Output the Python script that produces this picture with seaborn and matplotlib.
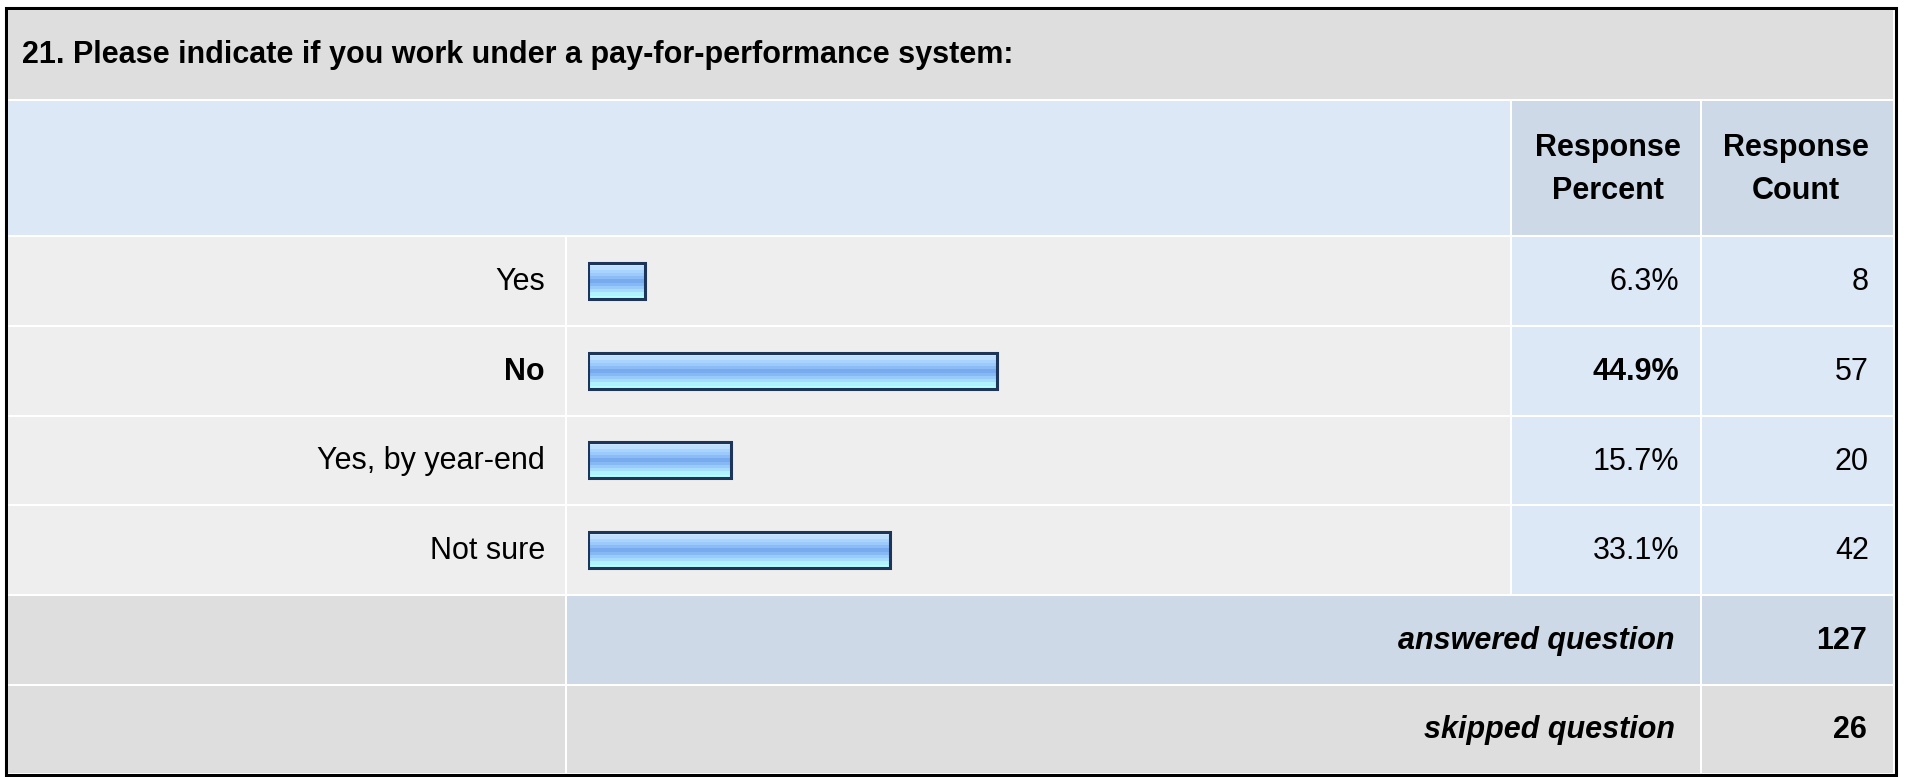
import numpy as np
import matplotlib
matplotlib.use("Agg")
import matplotlib.pyplot as plt
import matplotlib.colors as mcolors
from matplotlib.patches import Rectangle
import seaborn as sns

# survey data
title = "21. Please indicate if you work under a pay-for-performance system:"
labels = ["Yes", "No", "Yes, by year-end", "Not sure"]
percents = [6.3, 44.9, 15.7, 33.1]
counts = [8, 57, 20, 42]
answered = 127
skipped = 26

sns.set_style("white")
plt.rcParams["font.family"] = ["Liberation Sans", "DejaVu Sans"]
plt.rcParams["text.color"] = "black"
FS = 22

W, H = 1907, 777
fig = plt.figure(figsize=(W / 100, H / 100), dpi=100)
bg = fig.add_axes([0, 0, 1, 1])
bg.set_xlim(0, W)
bg.set_ylim(H, 0)
bg.axis("off")


def cell(x0, x1, y0, y1, c):
    bg.add_patch(Rectangle((x0, y0), x1 - x0, y1 - y0, facecolor=c, edgecolor="none"))


GRAY = "#dedede"
LIGHT = "#eeeeee"
BLUE = "#dce8f5"
BLUE2 = "#cdd9e6"

# outer frame
bg.add_patch(Rectangle((5.5, 7.5), 1890, 767, fill=False, edgecolor="black", lw=2.2))

rows = [236, 326, 416, 505, 595, 685, 773]

cell(8, 1893, 10, 99, GRAY)
cell(8, 1510, 101, 235, BLUE)
cell(1512, 1700, 101, 235, BLUE2)
cell(1702, 1893, 101, 235, BLUE2)

for i in range(4):
    y0, y1 = rows[i] + 1, rows[i + 1] - 1
    cell(8, 565, y0, y1, LIGHT)
    cell(567, 1510, y0, y1, LIGHT)
    cell(1512, 1700, y0, y1, BLUE)
    cell(1702, 1893, y0, y1, BLUE)

y0, y1 = rows[4] + 1, rows[5] - 1
cell(8, 565, y0, y1, GRAY)
cell(567, 1700, y0, y1, BLUE2)
cell(1702, 1893, y0, y1, BLUE2)
y0, y1 = rows[5] + 1, rows[6]
cell(8, 565, y0, y1, GRAY)
cell(567, 1700, y0, y1, GRAY)
cell(1702, 1893, y0, y1, GRAY)

# text
tkw = dict(fontsize=FS, color="black", family=["Liberation Sans", "DejaVu Sans"])
bg.text(22, 55, title, fontweight="bold", va="center", ha="left", **tkw)
for cx in (1608, 1796):
    bg.text(cx, 148, "Response", fontweight="bold", ha="center", va="center", **tkw)
bg.text(1608, 191, "Percent", fontweight="bold", ha="center", va="center", **tkw)
bg.text(1796, 191, "Count", fontweight="bold", ha="center", va="center", **tkw)

top = max(percents)
for i, (lab, p, n) in enumerate(zip(labels, percents, counts)):
    yc = (rows[i] + rows[i + 1]) / 2 + 1
    w = "bold" if p == top else "normal"
    bg.text(545, yc, lab, fontweight=w, ha="right", va="center", **tkw)
    bg.text(1679, yc, f"{p:.1f}%", fontweight=w, ha="right", va="center", **tkw)
    bg.text(1869, yc, str(n), ha="right", va="center", **tkw)

yc = (rows[4] + rows[5]) / 2 + 1
bg.text(1675, yc, "answered question", fontweight="bold", style="italic", ha="right", va="center", **tkw)
bg.text(1867, yc, str(answered), fontweight="bold", ha="right", va="center", **tkw)
yc = (rows[5] + rows[6]) / 2 + 1
bg.text(1675, yc, "skipped question", fontweight="bold", style="italic", ha="right", va="center", **tkw)
bg.text(1867, yc, str(skipped), fontweight="bold", ha="right", va="center", **tkw)

# bars
bx0, bx1 = 588, 1500
ax = fig.add_axes([bx0 / W, 1 - rows[4] / H, (bx1 - bx0) / W, (rows[4] - rows[0]) / H])
ax.patch.set_alpha(0)
sns.barplot(x=percents, y=labels, orient="h", width=0.4, ax=ax,
            color="#8ebcf4", edgecolor="#1c3558", linewidth=2.2)
ax.set_xlim(0, 100)
ax.set_ylim(3.5, -0.5)

grad_cols = ["#d2eaff", "#bcdfff", "#a8d4ff", "#9ccafc", "#8cbcf6", "#78aaef",
             "#86b8f4", "#98cafc", "#a6dcff", "#b0f2ff", "#b4ffff"]
grad = np.array([mcolors.to_rgb(c) for c in grad_cols])[:, None, :]
for p in ax.patches:
    x, y, w, h = p.get_x(), p.get_y(), p.get_width(), p.get_height()
    im = ax.imshow(grad, extent=[x, x + w, y + h, y], aspect="auto",
                   interpolation="nearest", zorder=p.get_zorder() - 0.5)
    im.set_clip_path(p)
    p.set_facecolor("none")
ax.set_xlim(0, 100)
ax.set_ylim(3.5, -0.5)
ax.axis("off")

fig.savefig("out.png", dpi=100)
